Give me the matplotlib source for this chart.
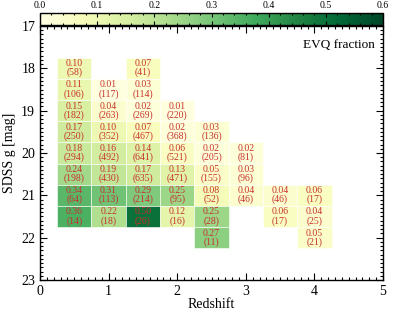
import matplotlib
matplotlib.use("Agg")
import matplotlib.pyplot as plt
import numpy as np
from matplotlib.patches import Rectangle
from matplotlib.ticker import MultipleLocator

plt.rcParams['font.family'] = ['Liberation Serif', 'DejaVu Serif']
plt.rcParams['mathtext.fontset'] = 'stix'

# data: (redshift bin centre, g-mag bin centre, fraction, count)
redshift = [0.5, 1.5,
            0.5, 1.0, 1.5,
            0.5, 1.0, 1.5, 2.0,
            0.5, 1.0, 1.5, 2.0, 2.5,
            0.5, 1.0, 1.5, 2.0, 2.5, 3.0,
            0.5, 1.0, 1.5, 2.0, 2.5, 3.0,
            0.5, 1.0, 1.5, 2.0, 2.5, 3.0, 3.5, 4.0,
            0.5, 1.0, 1.5, 2.0, 2.5, 3.5, 4.0,
            2.5, 4.0]
gmag = [18.0, 18.0,
        18.5, 18.5, 18.5,
        19.0, 19.0, 19.0, 19.0,
        19.5, 19.5, 19.5, 19.5, 19.5,
        20.0, 20.0, 20.0, 20.0, 20.0, 20.0,
        20.5, 20.5, 20.5, 20.5, 20.5, 20.5,
        21.0, 21.0, 21.0, 21.0, 21.0, 21.0, 21.0, 21.0,
        21.5, 21.5, 21.5, 21.5, 21.5, 21.5, 21.5,
        22.0, 22.0]
fraction = [0.10, 0.07,
            0.11, 0.01, 0.03,
            0.15, 0.04, 0.02, 0.01,
            0.17, 0.10, 0.07, 0.02, 0.03,
            0.18, 0.16, 0.14, 0.06, 0.02, 0.02,
            0.24, 0.19, 0.17, 0.13, 0.05, 0.03,
            0.34, 0.31, 0.29, 0.25, 0.08, 0.04, 0.04, 0.06,
            0.36, 0.22, 0.50, 0.12, 0.25, 0.06, 0.04,
            0.27, 0.05]
counts = [58, 41,
          106, 117, 114,
          182, 263, 269, 220,
          250, 352, 467, 368, 136,
          294, 492, 641, 521, 205, 81,
          198, 430, 635, 471, 155, 96,
          64, 113, 214, 95, 52, 46, 46, 17,
          14, 18, 26, 16, 28, 17, 25,
          11, 21]

dz, dg = 0.5, 0.5
cmap = plt.get_cmap('YlGn')
norm = matplotlib.colors.Normalize(vmin=0.0, vmax=0.6)

fig = plt.figure(figsize=(3.99, 3.19), dpi=100)
ax = fig.add_axes([40/399, 1 - 280/319, 343/399, 254/319])
cax = fig.add_axes([40/399, 1 - 25/319, 343/399, 12.5/319])

for z, g, f, n in zip(redshift, gmag, fraction, counts):
    ax.add_patch(Rectangle((z - dz/2, g - dg/2), dz, dg, facecolor=cmap(norm(f)),
                           edgecolor='white', linewidth=0.4))
    ax.text(z, g, f"{f:.2f}\n({n})", ha='center', va='center', fontsize=7,
            color='#c8302c', linespacing=0.95)

ax.set_xlim(0, 5)
ax.set_ylim(23, 17)
ax.xaxis.set_major_locator(MultipleLocator(1))
ax.xaxis.set_minor_locator(MultipleLocator(0.1))
ax.yaxis.set_major_locator(MultipleLocator(1))
ax.yaxis.set_minor_locator(MultipleLocator(0.1))
ax.tick_params(which='both', direction='in', top=True, right=True, labelsize=10, width=0.8)
ax.tick_params(which='major', length=5)
ax.tick_params(which='minor', length=2.5)
for s in ax.spines.values():
    s.set_linewidth(1.0)
ax.set_xlabel('Redshift', fontsize=10, labelpad=0)
ax.set_ylabel('SDSS g [mag]', fontsize=10, labelpad=4)
ax.text(4.36, 17.45, 'EVQ fraction', ha='center', va='center', fontsize=9.5)

sm = matplotlib.cm.ScalarMappable(norm=norm, cmap=cmap)
cb = fig.colorbar(sm, cax=cax, orientation='horizontal')
cb.outline.set_linewidth(1.0)
cax.xaxis.set_ticks_position('both')
cax.xaxis.set_label_position('top')
cax.set_xticks([0.0, 0.1, 0.2, 0.3, 0.4, 0.5, 0.6])
cax.set_xticklabels(['0.0', '0.1', '0.2', '0.3', '0.4', '0.5', '0.6'])
cax.xaxis.set_minor_locator(MultipleLocator(0.02))
cax.tick_params(which='both', direction='in', top=True, bottom=True,
                labeltop=True, labelbottom=False, labelsize=7, pad=2, width=0.8)
cax.tick_params(which='major', length=3)
cax.tick_params(which='minor', length=1.5)

fig.savefig('out.png', dpi=100)
